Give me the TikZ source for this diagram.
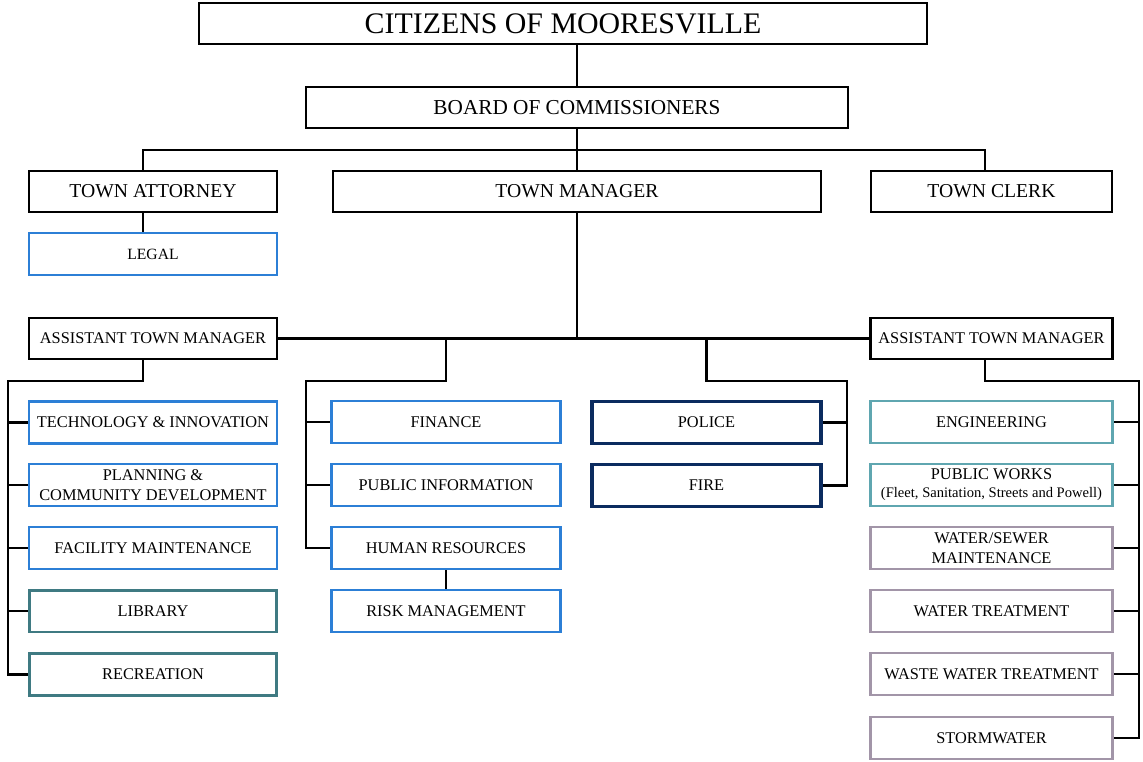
\documentclass[tikz,border=0pt]{standalone}
\usepackage{fontspec}
\setmainfont{Liberation Serif}
\usepackage{xcolor}
\usetikzlibrary{positioning}
\definecolor{deptblue}{RGB}{44,127,214}
\definecolor{deptteal}{RGB}{63,122,130}
\definecolor{deptnavy}{RGB}{11,43,95}
\definecolor{deptaqua}{RGB}{95,166,176}
\definecolor{deptmauve}{RGB}{162,149,168}
\newcommand{\unitsize}{\fontsize{9.3}{11.3}\selectfont}
\newcommand{\headsize}{\fontsize{11.2}{13}\selectfont}

\begin{document}
\begin{tikzpicture}[
  x=0.02cm, y=-0.02cm,
  line width=1.35pt,
  box/.style={draw, line width=1.2pt, inner sep=0pt, align=center,
              minimum height=0.82cm},
  head/.style={box, font=\headsize},
  unit/.style={box, minimum height=0.84cm, font=\unitsize},
  blueunit/.style={unit, draw=deptblue, line width=1.35pt},
  tealunit/.style={unit, draw=deptteal, line width=1.7pt},
  navyunit/.style={unit, draw=deptnavy, line width=1.9pt},
  aquaunit/.style={unit, draw=deptaqua, line width=1.45pt},
  mauveunit/.style={unit, draw=deptmauve, line width=1.35pt},
]
\useasboundingbox (0,0) rectangle (1143,761);

% === Top: citizens, board, first level ===
\node[box, minimum width=14.56cm, font=\fontsize{17}{20}\selectfont]
  (citizens) at (563,23.5) {CITIZENS OF MOORESVILLE};
\node[box, minimum width=10.84cm, font=\fontsize{12.1}{14}\selectfont]
  (board) at (577,107.5) {BOARD OF COMMISSIONERS};

\node[head, minimum width=4.96cm] (attorney) at (153,191.5) {TOWN ATTORNEY};
\node[head, minimum width=9.76cm] (manager) at (577,191.5) {TOWN MANAGER};
\node[head, minimum width=4.82cm] (clerk) at (991.5,191.5) {TOWN CLERK};

\node[blueunit, minimum width=4.96cm, font=\fontsize{8.9}{10}\selectfont]
  (legal) at (153,254) {LEGAL};

% === Assistant town managers ===
\node[box, minimum width=4.96cm, font=\unitsize] (atmL) at (153,338.5)
  {ASSISTANT TOWN MANAGER};
\node[box, minimum width=4.84cm, font=\unitsize] (atmR) at (991.5,338.5)
  {ASSISTANT TOWN MANAGER};

% trunk columns and rails
\coordinate (colA) at (143,0);
\coordinate (colD) at (985,0);
\coordinate (busTop) at (577,150);
\coordinate (railL) at (8,381);
\coordinate (railM) at (306,381);
\coordinate (railP) at (847,381);
\coordinate (railR) at (1139,381);

% === Departments ===
% left column
\foreach \name/\y/\sty/\txt in {
    tech/422.5/blueunit/{TECHNOLOGY \& INNOVATION},
    plan/485/blueunit/{PLANNING \&\\COMMUNITY DEVELOPMENT},
    facility/548/blueunit/{FACILITY MAINTENANCE},
    library/611/tealunit/{LIBRARY},
    rec/674.5/tealunit/{RECREATION}} {
  \node[\sty, minimum width=4.96cm] (\name) at (153,\y) {\txt};
}

% middle column
\foreach \name/\y/\txt in {
    finance/422/{FINANCE},
    pubinfo/485/{PUBLIC INFORMATION},
    hr/548/{HUMAN RESOURCES},
    risk/611/{RISK MANAGEMENT}} {
  \node[blueunit, minimum width=4.58cm] (\name) at (446,\y) {\txt};
}

% public safety
\node[navyunit, minimum width=4.58cm] (police) at (706.5,422.5) {POLICE};
\node[navyunit, minimum width=4.58cm] (fire) at (706.5,485.5) {FIRE};

% right column
\foreach \name/\y/\sty/\txt in {
    eng/422/aquaunit/{ENGINEERING},
    works/485/aquaunit/{PUBLIC WORKS\\[-1pt]{\fontsize{8.3}{9}\selectfont (Fleet, Sanitation, Streets and Powell)}},
    sewer/548/mauveunit/{WATER/SEWER\\MAINTENANCE},
    wtreat/611/mauveunit/{WATER TREATMENT},
    wwtreat/674/mauveunit/{WASTE WATER TREATMENT},
    storm/738/mauveunit/{STORMWATER}} {
  \node[\sty, minimum width=4.84cm] (\name) at (991.5,\y) {\txt};
}

% === Connectors ===
\draw (board.north |- citizens.south) -- (board.north);
\draw (board.south) -- (manager.north);
\draw (attorney.north -| colA) |- (busTop) -| (clerk.north -| colD);
\draw (attorney.south -| colA) -- (legal.north -| colA);

\draw (manager.south) -- (manager.south |- atmL.east);
\draw (atmL.east) -- (atmR.west);

\draw (atmL.south -| colA) |- (railL) |- (rec.west);
\foreach \n in {tech,plan,facility,library}
  \draw (railL |- \n.west) -- (\n.west);

\draw (finance.north |- atmL.east) |- (railM) |- (hr.west);
\foreach \n in {finance,pubinfo}
  \draw (railM |- \n.west) -- (\n.west);
\draw (hr) -- (risk);

\draw (police.north |- atmR.west) |- (railP) |- (fire.east);
\draw (railP |- police.east) -- (police.east);

\draw (atmR.south -| colD) |- (railR) |- (storm.east);
\foreach \n in {eng,works,sewer,wtreat,wwtreat}
  \draw (railR |- \n.east) -- (\n.east);

\end{tikzpicture}
\end{document}
